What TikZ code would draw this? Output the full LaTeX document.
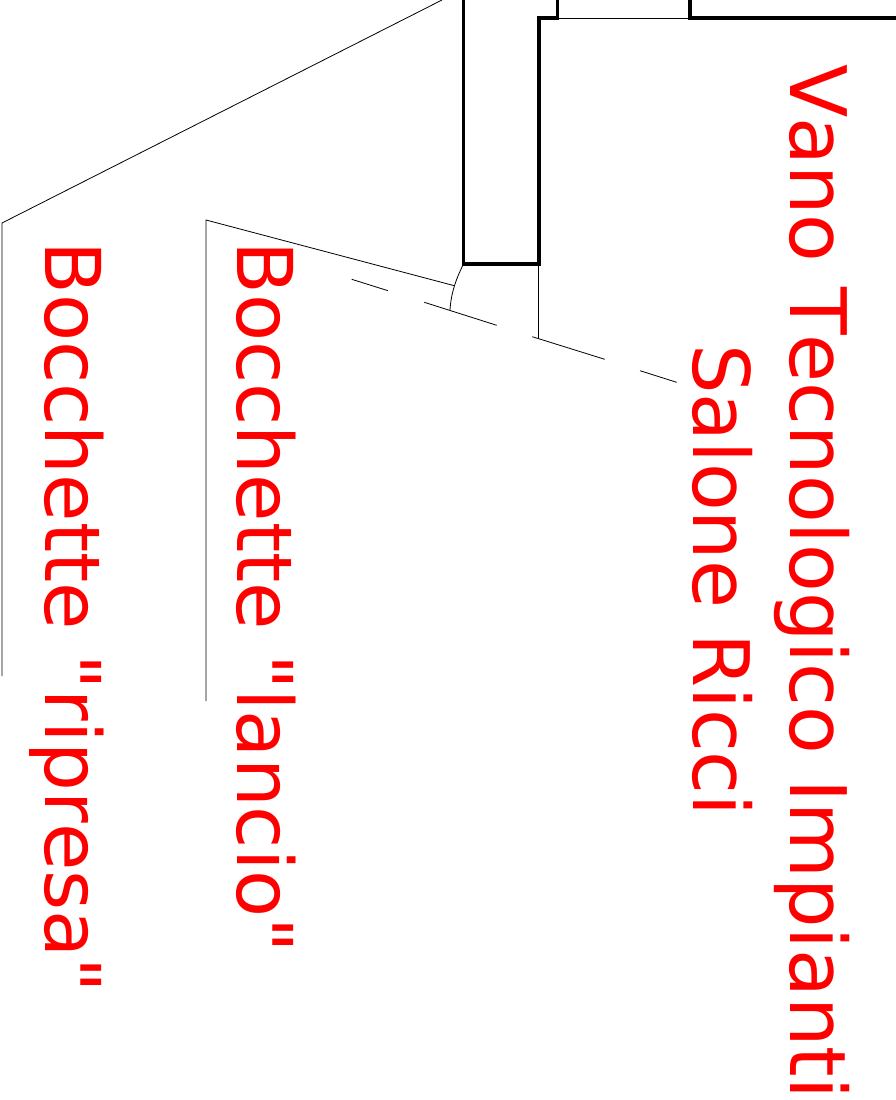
\documentclass[tikz,border=0pt]{standalone}
\usepackage{fontspec}
\newfontfamily\lblfont[Kerning=Off]{DejaVu Sans}
\definecolor{labelred}{rgb}{1, 0, 0}
\tikzstyle{wall}=[line width=3.6pt, color=black, line join=miter]
\tikzstyle{fine}=[line width=.8pt, color=black]
\tikzstyle{lbl}=[rotate=-90, anchor=base west, inner sep=0pt, color=labelred, font=\lblfont\fontsize{77}{77}\selectfont]
\tikzstyle{lblbig}=[lbl, font=\lblfont\fontsize{78}{78}\selectfont]
\begin{document}
\begin{tikzpicture}[x=1pt, y=-1pt]
		\useasboundingbox (0,0) rectangle (896,1100);

		% walls
		\draw[wall] (463.5,-5)--(463.5,264)--(539,264)--(539,18)--(557.5,18)--(557.5,-5);
		\draw[wall] (900,18)--(690,18)--(690,-5);
		\draw[fine] (557.5,18)--(690,18);

		% door
		\draw[fine] (463,265) .. controls (457,277) and (451,292) .. (450,310);
		\draw[fine] (538.7,264)--(538.7,338);

		% dashed line
		\draw[fine] (351.7,279.3)--(388,290.7);
		\draw[fine] (424.3,302.3)--(496.7,325.3);
		\draw[fine] (532.3,336.7)--(604.7,359.3);
		\draw[fine] (640,370.7)--(676.7,382.3);

		% leaders
		\draw[fine] (442,0)--(2,223)--(2,676);
		\draw[fine] (454.3,285.7)--(206,220)--(206,701);

		\node[lblbig] (vano) at (790,64) {Vano Tecnologico Impianti};
		\node[lblbig] (salone) at (693,344) {Salone Ricci};
		\node[lbl] (lancio) at (237,241) {Bocchette "lancio"};
		\node[lbl] (ripresa) at (45,241) {Bocchette "ripresa"};
\end{tikzpicture}
\end{document}
